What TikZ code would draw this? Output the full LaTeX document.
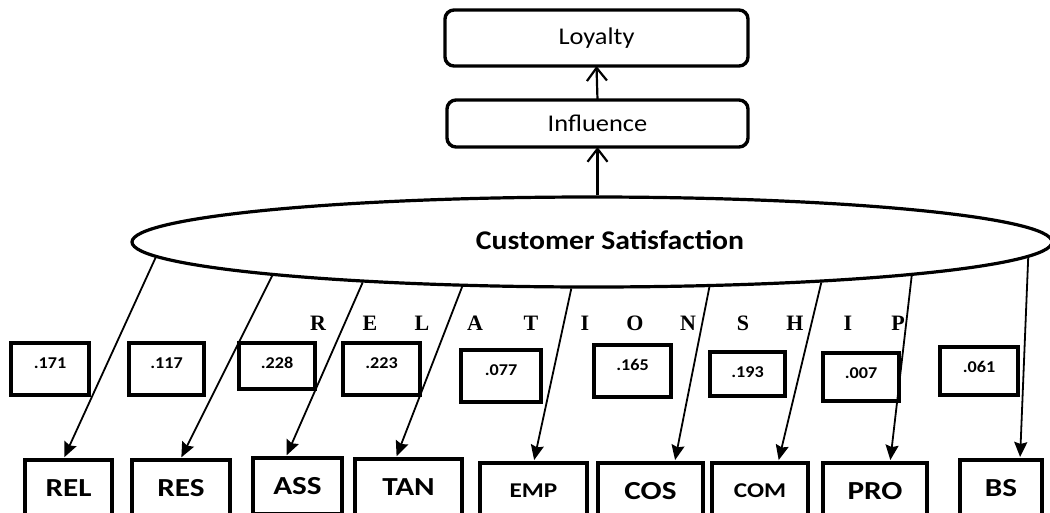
\documentclass[tikz,border=0pt]{standalone}
\usepackage{fontspec}
\setmainfont{Carlito}
\newfontfamily\widelabel[FakeStretch=1.2]{Carlito}
\newfontfamily\midlabel[FakeStretch=1.1]{Carlito}
\newfontfamily\serifletters{Liberation Serif}
\usetikzlibrary{shapes.geometric,arrows.meta}
\begin{document}
\begin{tikzpicture}[x=1pt,y=-1pt,
  roundbox/.style={draw,line width=3.4pt,rounded corners=9pt,inner sep=0pt,outer sep=0pt,font=\midlabel\fontsize{24}{28}\selectfont},
  coefbox/.style={draw,line width=3.8pt,inner sep=0pt,outer sep=0pt,anchor=north west},
  coeftext/.style={font=\midlabel\bfseries\fontsize{16.5}{18}\selectfont,inner sep=0pt},
  dimbox/.style={draw,line width=4.6pt,inner sep=0pt,outer sep=0pt,anchor=north,minimum height=56pt,font=\widelabel\bfseries\fontsize{26}{30}\selectfont},
  smalldim/.style={font=\widelabel\bfseries\fontsize{21}{25}\selectfont},
  letter/.style={font=\serifletters\bfseries\fontsize{22}{24}\selectfont,inner sep=0pt},
  link/.style={line width=1.8pt,-{Stealth[length=15pt,width=13pt,inset=2pt]},shorten >=3pt},
  up/.style={line width=2.2pt,-{Straight Barb[length=13pt,width=20pt,line width=2.2pt]}}
]
\useasboundingbox (0,0) rectangle (1050,512);
\clip (0,0) rectangle (1050,512);

% top chain
\node[roundbox,minimum width=303pt,minimum height=56pt] (loy) at (596.5,38) {Loyalty};
\node[roundbox,minimum width=301pt,minimum height=47pt] (inf) at (597.5,123.5) {Influence};

% central construct
\node[draw,ellipse,line width=3.2pt,minimum width=920pt,minimum height=90pt,inner sep=0pt] (cs) at (592,242) {};
\node[font=\midlabel\bfseries\fontsize{27}{32}\selectfont,inner sep=0pt] (cstext) at (610,240) {Customer Satisfaction};

\draw[up] (inf.south |- cs.north) -- (inf.south);
\draw[up] (inf.north) -- (loy.south);

% RELATIONSHIP lettering
\foreach \ch/\lx [count=\i] in {R/318,E/370,L/422,A/475,T/531,I/585,O/635,N/688,S/743,H/795,I/848,P/898}
  \node[letter] (let\i) at (\lx,323) {\ch};

% coefficient boxes
\foreach \nm/\xa/\ya/\xb/\yb/\val in {
  c1/11/343/89/395/.171,
  c2/129/343/204/395/.117,
  c3/239/343/315/389/.228,
  c4/343/343/420/395/.223,
  c5/461/350/541/402/.077,
  c6/594/345/671/397/.165,
  c7/710/352/785/396/.193,
  c8/823/353/899/401/.007,
  c9/940/347/1018/395/.061}{
  \node[coefbox,minimum width={\xb-\xa},minimum height={\yb-\ya}] (\nm) at (\xa,\ya) {};
  \node[coeftext] (\nm t) at ([yshift=-20pt]\nm.north) {\val};
}

% dimension boxes
\node[dimbox,minimum width=87pt] (rel) at (68.5,460) {REL};
\node[dimbox,minimum width=98pt] (res) at (181,460) {RES};
\node[dimbox,minimum width=89pt] (ass) at (297.5,458) {ASS};
\node[dimbox,minimum width=107pt] (tan) at (408.5,459) {TAN};
\node[dimbox,smalldim,minimum width=107pt] (emp) at (533.5,463) {EMP};
\node[dimbox,minimum width=105pt] (cos) at (650.5,463) {COS};
\node[dimbox,smalldim,minimum width=96pt] (com) at (760,463) {COM};
\node[dimbox,minimum width=104pt] (pro) at (875,463) {PRO};
\node[dimbox,minimum width=82pt] (bs) at (1001,460) {BS};

% links from the construct to its dimensions
\draw[link] (cs.182.2) -- ([xshift=-5.5pt]rel.north);
\draw[link] (cs.186.0) -- ([xshift=-1pt]res.north);
\draw[link] (cs.190.1) -- ([xshift=-12pt]ass.north);
\draw[link] (cs.199.9) -- ([xshift=-13pt]tan.north);
\draw[link] (cs.246) -- (emp.north);
\draw[link] (cs.339.6) -- ([xshift=24pt]cos.north);
\draw[link] (cs.350.2) -- ([xshift=18pt]com.north);
\draw[link] (cs.354.8) -- ([xshift=15pt]pro.north);
\draw[link] (cs.358.2) -- ([xshift=19pt]bs.north);
\end{tikzpicture}
\end{document}
